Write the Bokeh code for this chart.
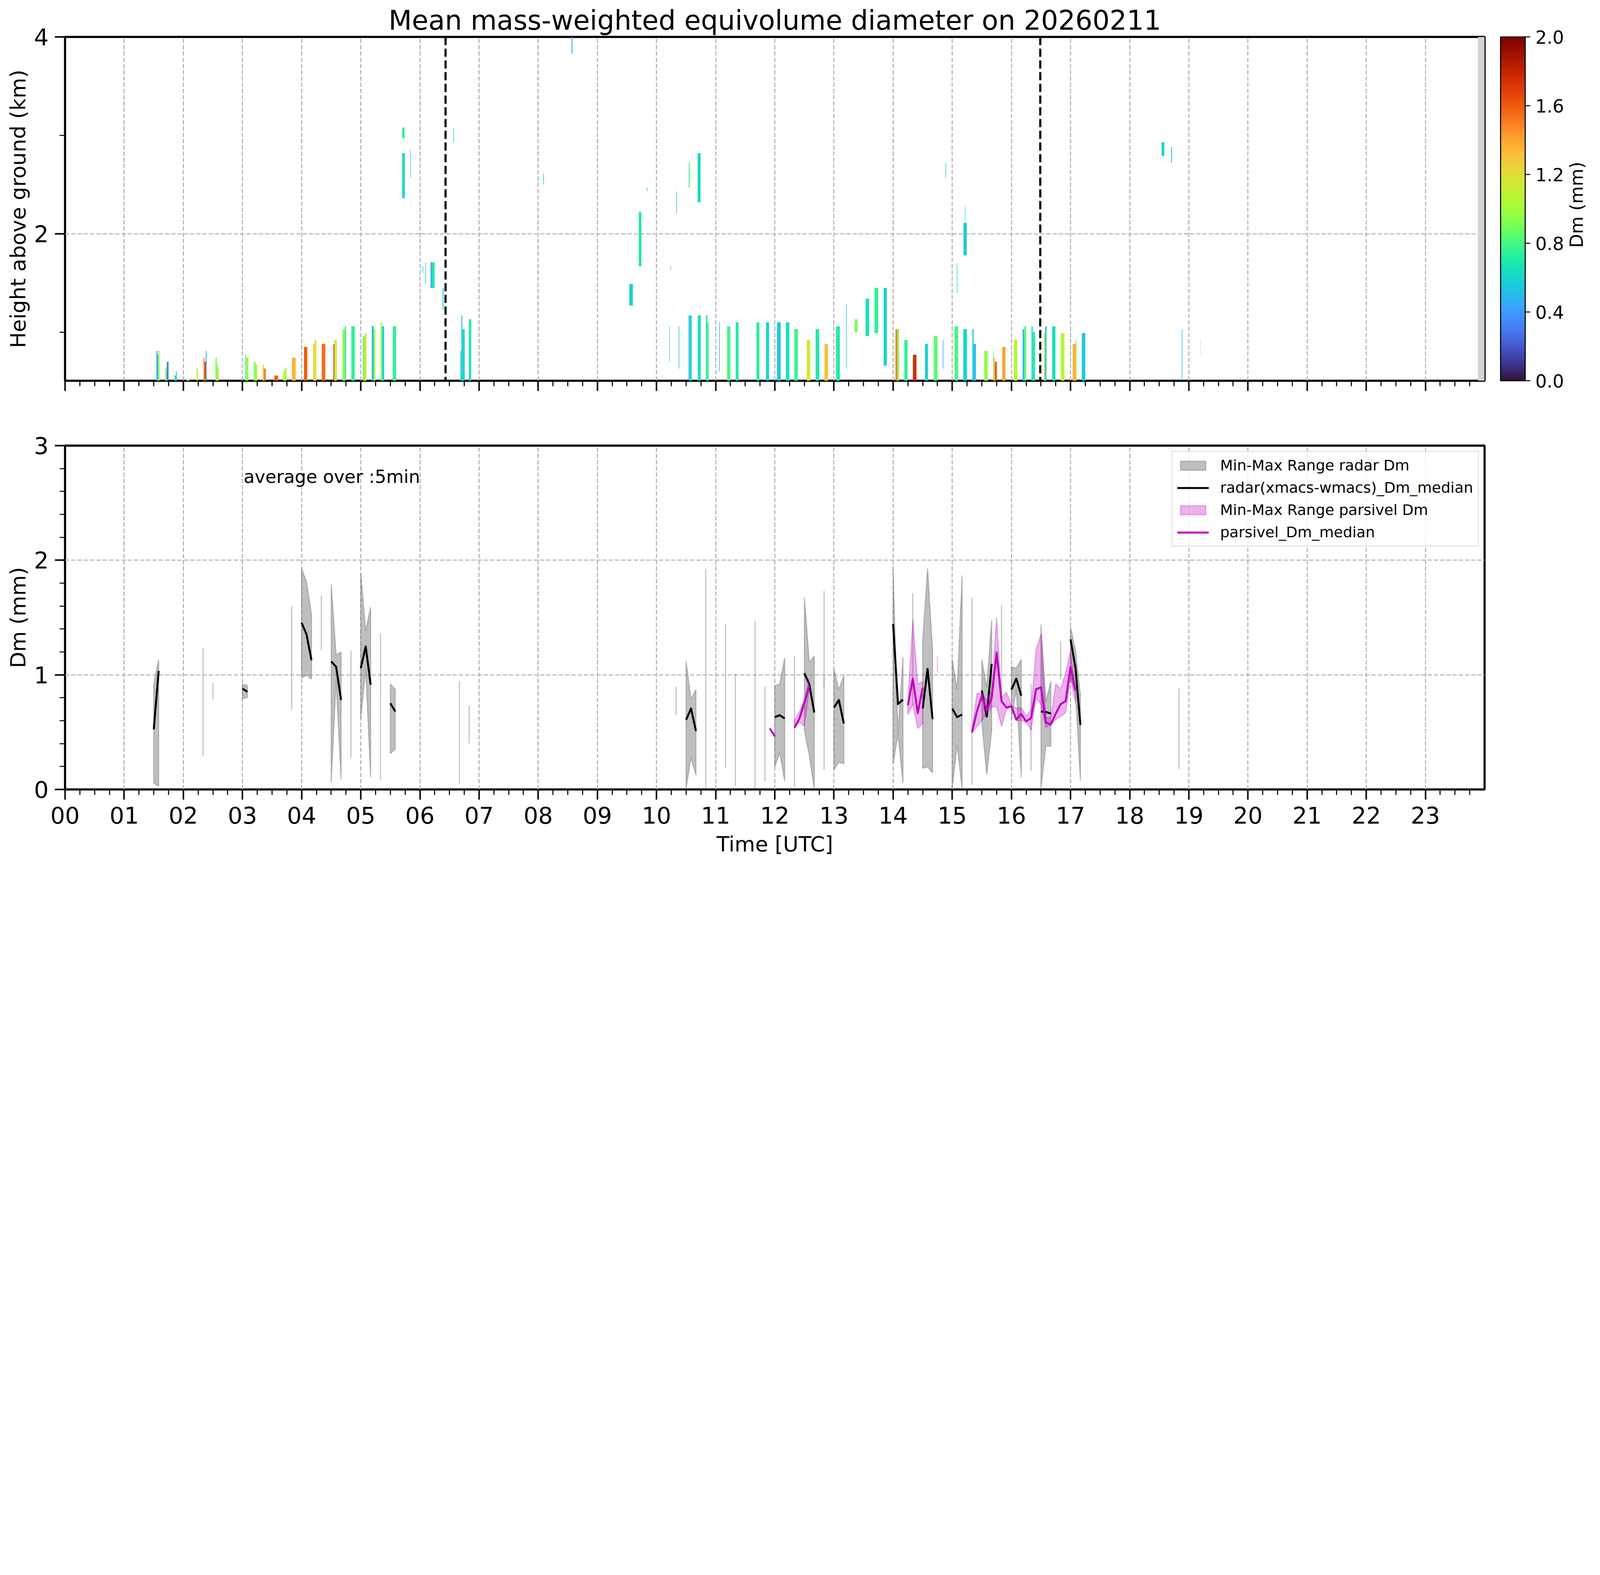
from bokeh.plotting import figure
from bokeh.layouts import column, row
from bokeh.models import (Range1d, FixedTicker, LinearColorMapper, ColorBar, Span, Label,
                          Legend, LegendItem, PrintfTickFormatter, ColumnDataSource)
from bokeh.palettes import Turbo256
from bokeh.embed import file_html
from bokeh.resources import INLINE

FONT = "DejaVu Sans"
GRID = "#b0b0b0"
MAG = "#bf00bf"

hour_labels = ["00", "01", "02", "03", "04", "05", "06", "07", "08", "09", "10", "11",
               "12", "13", "14", "15", "16", "17", "18", "19", "20", "21", "22", "23"]
cbar_ticks = [0.0, 0.4, 0.8, 1.2, 1.6, 2.0]

# ---- top panel: radar Dm columns from the lowest gate (start h, end h, top km, Dm mm)
bar_t0 = [1.545, 1.562, 1.580, 1.695, 1.720, 1.850, 1.875,
          2.054, 2.225, 2.340, 2.360, 2.380, 2.542, 2.565, 2.585,
          3.047, 3.066, 3.190, 3.220, 3.340, 3.360, 3.540, 3.690, 3.710, 3.836,
          4.040, 4.095, 4.194, 4.218, 4.340, 4.537, 4.555, 4.690, 4.730, 4.840,
          5.034, 5.070, 5.185, 5.220, 5.337, 5.360, 5.542,
          6.685, 6.700, 6.716, 6.827,
          10.543, 10.560, 10.697, 10.835, 10.860,
          11.194, 11.340, 11.690, 11.852,
          12.037, 12.187, 12.330, 12.540, 12.690, 12.840,
          13.035,
          14.040, 14.070, 14.190, 14.335, 14.540, 14.687,
          15.040, 15.187, 15.340, 15.360, 15.540, 15.690, 15.700, 15.720, 15.845,
          16.040, 16.190, 16.220, 16.340, 16.360, 16.547, 16.570, 16.689, 16.835,
          17.036, 17.090, 17.190]
bar_t1 = [1.562, 1.580, 1.597, 1.720, 1.750, 1.875, 1.890,
          2.100, 2.250, 2.360, 2.380, 2.394, 2.565, 2.585, 2.598,
          3.066, 3.100, 3.220, 3.250, 3.360, 3.395, 3.600, 3.710, 3.745, 3.900,
          4.095, 4.100, 4.218, 4.250, 4.400, 4.555, 4.595, 4.730, 4.750, 4.900,
          5.070, 5.097, 5.220, 5.247, 5.360, 5.395, 5.598,
          6.700, 6.716, 6.757, 6.868,
          10.560, 10.595, 10.748, 10.860, 10.882,
          11.249, 11.387, 11.740, 11.903,
          12.100, 12.246, 12.390, 12.600, 12.750, 12.900,
          13.100,
          14.070, 14.100, 14.245, 14.395, 14.590, 14.750,
          15.100, 15.250, 15.360, 15.400, 15.600, 15.700, 15.720, 15.754, 15.900,
          16.100, 16.220, 16.250, 16.360, 16.400, 16.570, 16.594, 16.745, 16.897,
          17.090, 17.100, 17.250]
bar_top = [0.81, 0.77, 0.81, 0.63, 0.70, 0.56, 0.60,
           0.52, 0.63, 0.74, 0.70, 0.81, 0.74, 0.67, 0.63,
           0.77, 0.74, 0.70, 0.67, 0.67, 0.63, 0.56, 0.60, 0.63, 0.74,
           0.85, 0.88, 0.88, 0.92, 0.88, 0.88, 0.92, 1.03, 1.06, 1.06,
           0.96, 0.99, 1.06, 1.03, 1.10, 1.06, 1.06,
           0.81, 1.17, 1.03, 1.13,
           1.17, 1.17, 1.17, 1.17, 1.10,
           1.06, 1.10, 1.10, 1.10,
           1.10, 1.10, 1.03, 0.92, 1.03, 0.88,
           1.06,
           1.03, 1.03, 0.92, 0.77, 0.88, 0.96,
           1.06, 1.03, 1.03, 0.88, 0.81, 0.81, 0.74, 0.70, 0.85,
           0.92, 1.03, 1.06, 1.06, 1.00, 0.99, 1.06, 1.06, 0.99,
           0.88, 0.92, 0.99]
bar_dm = [0.40, 0.65, 1.00, 0.90, 0.30, 0.65, 0.60,
          1.00, 1.15, 1.45, 1.70, 0.45, 0.90, 1.00, 1.30,
          0.85, 0.95, 0.90, 1.05, 1.20, 1.50, 1.60, 1.05, 1.00, 1.35,
          1.60, 1.20, 1.25, 1.15, 1.55, 1.65, 1.10, 0.95, 0.70, 0.75,
          0.90, 1.20, 0.55, 1.05, 0.95, 0.60, 0.75,
          0.60, 0.50, 0.62, 0.70,
          0.45, 0.62, 0.65, 0.72, 0.80,
          0.80, 0.70, 0.72, 0.60,
          0.55, 0.65, 0.78, 1.15, 0.70, 1.30,
          0.70,
          1.50, 0.90, 0.75, 1.75, 0.60, 0.85,
          0.80, 0.60, 0.55, 0.50, 0.95, 0.85, 1.30, 1.60, 1.40,
          1.05, 0.50, 0.85, 0.65, 0.70, 1.10, 0.50, 0.65, 1.05,
          1.35, 0.90, 0.55]
gate_base = 0.45

# ---- top panel: elevated echoes (start h, end h, bottom km, top km, Dm mm)
echo_t0 = [5.700, 5.700, 5.835, 6.045, 6.090, 6.180, 6.210, 6.385, 6.565, 8.085,
           8.565, 9.540, 9.700, 9.835, 10.216, 10.235, 10.335, 10.374, 10.545, 10.695,
           11.060, 13.205, 13.350, 13.535, 13.685, 13.840, 14.840, 14.885, 15.075, 15.190,
           15.215, 18.540, 18.700, 18.880, 19.195]
echo_t1 = [5.740, 5.745, 5.842, 6.055, 6.100, 6.210, 6.250, 6.400, 6.575, 8.095,
           8.580, 9.600, 9.745, 9.845, 10.224, 10.245, 10.345, 10.384, 10.560, 10.745,
           11.070, 13.215, 13.400, 13.595, 13.748, 13.894, 14.850, 14.895, 15.085, 15.245,
           15.222, 18.585, 18.715, 18.890, 19.200]
echo_z0 = [2.97, 2.36, 2.57, 1.60, 1.49, 1.45, 1.45, 1.23, 2.93, 2.50,
           3.83, 1.27, 1.67, 2.43, 0.70, 1.64, 2.21, 0.63, 2.47, 2.32,
           0.60, 0.63, 1.00, 0.96, 0.99, 0.66, 0.63, 2.57, 1.40, 1.78,
           2.11, 2.79, 2.72, 0.45, 0.77]
echo_z1 = [3.08, 2.82, 2.86, 1.67, 1.71, 1.71, 1.71, 1.45, 3.08, 2.61,
           4.00, 1.49, 2.22, 2.47, 1.06, 1.67, 2.43, 1.06, 2.72, 2.82,
           1.10, 1.28, 1.13, 1.34, 1.45, 1.45, 0.92, 2.72, 1.70, 2.11,
           2.28, 2.93, 2.88, 1.03, 0.92]
echo_dm = [0.75, 0.62, 0.45, 0.60, 0.55, 0.45, 0.70, 0.55, 0.65, 0.55,
           0.50, 0.60, 0.70, 0.60, 0.60, 0.60, 0.50, 0.50, 0.75, 0.62,
           0.45, 0.55, 0.90, 0.65, 0.75, 0.60, 0.45, 0.60, 0.70, 0.55,
           0.60, 0.60, 0.55, 0.50, 0.90]

nodata_start = 23.887
event_marks = [6.433, 16.488]

# ---- bottom panel: 5-min radar Dm statistics (h, mm)
radar_t = [1.5, 1.583, 2.333, 2.5, 3.0, 3.083, 3.833, 4.0, 4.083, 4.167,
           4.333, 4.5, 4.583, 4.667, 4.833, 5.0, 5.083, 5.167, 5.333, 5.5,
           5.583, 6.667, 6.833, 10.333, 10.5, 10.583, 10.667, 10.833, 11.167, 11.333,
           11.667, 11.833, 12.0, 12.083, 12.167, 12.333, 12.5, 12.583, 12.667, 12.833,
           13.0, 13.083, 13.167, 14.0, 14.083, 14.167, 14.333, 14.5, 14.583, 14.667,
           15.0, 15.083, 15.167, 15.333, 15.5, 15.583, 15.667, 15.833, 16.0, 16.083,
           16.167, 16.333, 16.5, 16.583, 16.667, 16.833, 17.0, 17.083, 17.167, 18.833]
radar_min = [0.055, 0.029, 0.293, 0.784, 0.789, 0.805, 0.697, 0.974, 0.997, 0.962,
             1.217, 0.059, 0.948, 0.087, 0.276, 0.614, 1.052, 0.107, 0.087, 0.312,
             0.354, 0.047, 0.402, 0.648, 0.012, 0.277, 0.125, 0.007, 0.185, 0.029,
             0.012, 0.067, 0.194, 0.324, 0.073, 0.021, 0.515, 0.300, 0.000, 0.172,
             0.172, 0.237, 0.224, 0.229, 0.480, 0.055, 0.731, 0.185, 0.197, 0.145,
             0.012, 0.388, 0.003, 0.041, 0.584, 0.128, 0.515, 0.750, 0.610, 0.870,
             0.107, 0.159, 0.012, 0.380, 0.376, 0.957, 0.974, 0.850, 0.076, 0.180]
radar_max = [0.919, 1.134, 1.235, 0.931, 0.919, 0.908, 1.599, 1.928, 1.812, 1.529,
             1.690, 1.788, 1.174, 1.200, 1.208, 1.890, 1.382, 1.590, 1.359, 0.919,
             0.874, 0.940, 0.732, 0.896, 1.117, 0.789, 0.870, 1.925, 1.446, 1.009,
             1.469, 0.896, 0.905, 0.919, 1.148, 1.165, 1.677, 1.110, 1.162, 1.732,
             1.052, 0.870, 0.995, 1.928, 0.490, 1.156, 1.714, 1.295, 1.928, 1.217,
             1.134, 0.870, 1.867, 1.671, 1.134, 0.888, 1.477, 1.607, 1.070, 1.058,
             1.134, 0.922, 1.439, 0.766, 0.943, 1.295, 1.416, 1.217, 0.818, 0.881]
radar_med = [0.524, 1.035, 0.760, 0.860, 0.879, 0.853, 1.150, 1.455, 1.352, 1.127,
             1.450, 1.117, 1.070, 0.780, 0.740, 1.058, 1.248, 0.914, 0.720, 0.752,
             0.680, 0.490, 0.570, 0.770, 0.607, 0.706, 0.510, 0.960, 0.820, 0.520,
             0.740, 0.480, 0.631, 0.648, 0.619, 0.590, 1.014, 0.919, 0.671, 0.950,
             0.714, 0.780, 0.575, 1.443, 0.745, 0.784, 1.220, 0.706, 1.052, 0.614,
             0.706, 0.631, 0.654, 0.860, 0.862, 0.636, 1.096, 1.180, 0.870, 0.966,
             0.818, 0.540, 0.680, 0.676, 0.662, 1.120, 1.309, 1.061, 0.562, 0.530]

# ---- bottom panel: 5-min parsivel Dm statistics (h, mm)
pars_t = [11.917, 12.0, 12.333, 12.417, 12.5, 12.583, 12.833,
          14.25, 14.333, 14.417, 14.5, 14.75,
          15.333, 15.417, 15.5, 15.583, 15.667, 15.75, 15.833, 15.917, 16.0, 16.083, 16.167,
          16.25, 16.333, 16.417, 16.5, 16.583, 16.667, 16.75, 16.833, 16.917, 17.0, 17.083]
pars_min = [0.53, 0.46, 0.53, 0.59, 0.55, 0.88, 0.896,
            0.654, 0.74, 0.532, 0.575, 1.018,
            0.49, 0.55, 0.60, 0.66, 0.72, 0.72, 0.55, 0.70, 0.72, 0.60, 0.60,
            0.59, 0.515, 0.80, 0.74, 0.54, 0.567, 0.61, 0.636, 0.67, 0.974, 0.758]
pars_max = [0.54, 0.47, 0.60, 0.68, 0.78, 0.97, 0.983,
            0.75, 1.482, 0.922, 0.94, 1.162,
            0.51, 0.839, 0.839, 0.78, 0.86, 1.498, 0.80, 0.85, 0.73, 0.71, 0.714,
            0.64, 0.70, 1.22, 1.356, 0.627, 0.627, 0.922, 0.879, 1.018, 1.208, 0.87]
pars_med = [0.532, 0.463, 0.54, 0.62, 0.76, 0.90, 0.94,
            0.735, 0.966, 0.666, 0.888, 1.09,
            0.50, 0.68, 0.815, 0.688, 0.797, 1.196, 0.770, 0.714, 0.727, 0.610, 0.659,
            0.593, 0.624, 0.874, 0.891, 0.584, 0.567, 0.662, 0.745, 0.770, 1.070, 0.862]


def runs(t):
    # consecutive 5-min samples form one run
    out, cur = [], [0]
    for i in range(1, len(t)):
        if t[i] - t[i - 1] < 0.1:
            cur.append(i)
        else:
            out.append(cur)
            cur = [i]
    out.append(cur)
    return out


def band(t, lo, hi):
    xs, ys = [], []
    for g in runs(t):
        xs.append([t[i] for i in g] + [t[i] for i in g[::-1]])
        ys.append([hi[i] for i in g] + [lo[i] for i in g[::-1]])
    return xs, ys


def segs(t, v):
    xs, ys = [], []
    for g in runs(t):
        xs.append([t[i] for i in g])
        ys.append([v[i] for i in g])
    return xs, ys


def style_axes(p):
    p.outline_line_color = "black"
    p.outline_line_width = 5.5
    p.background_fill_color = "white"
    p.border_fill_color = "white"
    for ax in (p.xaxis, p.yaxis):
        ax.axis_line_color = None
        ax.major_tick_in = 0
        ax.major_tick_out = 26
        ax.major_tick_line_width = 3.8
        ax.minor_tick_in = 0
        ax.minor_tick_out = 14
        ax.minor_tick_line_width = 2.7
        ax.major_label_text_font = FONT
        ax.major_label_text_font_size = "59px"
        ax.major_label_text_color = "black"
        ax.axis_label_text_font = FONT
        ax.axis_label_text_font_size = "54px"
        ax.axis_label_text_font_style = "normal"
        ax.axis_label_text_color = "black"
    p.yaxis.major_label_standoff = 16
    p.yaxis.axis_label_standoff = 6
    p.xaxis.ticker = FixedTicker(ticks=list(range(24)), minor_ticks=[k / 4 for k in range(96)])
    p.xaxis.major_label_overrides = {i: lab for i, lab in enumerate(hour_labels)}
    p.xgrid.ticker = FixedTicker(ticks=list(range(25)))
    for g in (p.xgrid, p.ygrid):
        g.grid_line_color = GRID
        g.grid_line_width = 2.7
        g.grid_line_dash = "11 5"


# ================= top panel =================
p1 = figure(width=4010, height=1094, output_backend="svg", toolbar_location=None,
            x_range=Range1d(0, 24), y_range=Range1d(0.506, 4.0),
            min_border_left=166, min_border_right=210, min_border_top=94, min_border_bottom=120)
p1.title.text = "Mean mass-weighted equivolume diameter on 20260211"
p1.title.text_font = FONT
p1.title.text_font_size = "69px"
p1.title.text_font_style = "normal"
p1.title.text_color = "black"
p1.title.align = "center"
p1.title.standoff = 5

mapper = LinearColorMapper(palette=Turbo256, low=0, high=2)

p1.quad(left=nodata_start, right=24, bottom=0.506, top=4.0, fill_color="#d3d3d3", line_color=None)
bars = ColumnDataSource(dict(l=bar_t0, r=bar_t1, b=[gate_base] * len(bar_t0), t=bar_top, dm=bar_dm))
p1.quad(left="l", right="r", bottom="b", top="t", source=bars,
        fill_color={"field": "dm", "transform": mapper}, line_color=None)
echoes = ColumnDataSource(dict(l=echo_t0, r=echo_t1, b=echo_z0, t=echo_z1, dm=echo_dm))
p1.quad(left="l", right="r", bottom="b", top="t", source=echoes,
        fill_color={"field": "dm", "transform": mapper}, line_color=None)

for t in event_marks:
    p1.add_layout(Span(location=t, dimension="height", line_color="black",
                       line_width=5.5, line_dash="21 9"))

style_axes(p1)
p1.yaxis.ticker = FixedTicker(ticks=[2, 4], minor_ticks=[1, 3])
p1.ygrid.ticker = FixedTicker(ticks=[2, 4])
p1.yaxis.axis_label = "Height above ground (km)"
p1.xaxis.major_label_overrides = {i: "" for i in range(24)}

cbar = ColorBar(color_mapper=mapper, location=(3675, 0), width=63, height=880,
                padding=0, margin=0, ticker=FixedTicker(ticks=cbar_ticks),
                formatter=PrintfTickFormatter(format="%.1f"),
                major_label_text_font=FONT, major_label_text_font_size="46px",
                major_label_text_color="black",
                major_tick_in=0, major_tick_out=13, major_tick_line_color="black",
                major_tick_line_width=2.7, label_standoff=13,
                bar_line_color="black", bar_line_width=2.7,
                background_fill_color=None, border_line_color=None)
p1.add_layout(cbar)

# narrow strip to the right of the top panel that carries the colour bar title
pc = figure(width=70, height=1094, output_backend="svg", toolbar_location=None,
            x_range=Range1d(0, 1), y_range=Range1d(0, 1), min_border=0)
pc.axis.visible = False
pc.grid.visible = False
pc.outline_line_color = None
pc.add_layout(Label(x=0.36, y=1 - 534 / 1094, text="Dm (mm)", angle=90, angle_units="deg",
                    text_align="center", text_baseline="middle", text_color="black",
                    text_font=FONT, text_font_size="46px"))

# ================= bottom panel =================
p2 = figure(width=4080, height=1109, output_backend="svg", toolbar_location=None,
            x_range=Range1d(0, 24), y_range=Range1d(0, 3),
            min_border_left=166, min_border_right=280, min_border_top=46, min_border_bottom=183)

xs, ys = band(radar_t, radar_min, radar_max)
r_rad_fill = p2.patches(xs, ys, fill_color="gray", fill_alpha=0.5,
                        line_color="gray", line_alpha=0.5, line_width=2.7)
xs, ys = segs(radar_t, radar_med)
r_rad_med = p2.multi_line(xs, ys, line_color="black", line_width=5, line_join="round")
xs, ys = band(pars_t, pars_min, pars_max)
r_par_fill = p2.patches(xs, ys, fill_color=MAG, fill_alpha=0.3,
                        line_color=MAG, line_alpha=0.3, line_width=2.7)
xs, ys = segs(pars_t, pars_med)
r_par_med = p2.multi_line(xs, ys, line_color=MAG, line_width=5, line_join="round")

style_axes(p2)
p2.yaxis.ticker = FixedTicker(ticks=[0, 1, 2, 3], minor_ticks=[k / 5 for k in range(16)])
p2.ygrid.ticker = FixedTicker(ticks=[1, 2])
p2.yaxis.axis_label = "Dm (mm)"
p2.xaxis.axis_label = "Time [UTC]"
p2.xaxis.major_label_standoff = 18
p2.xaxis.axis_label_standoff = 18

p2.add_layout(Label(x=3.02, y=2.73, text="average over :5min", text_baseline="alphabetic",
                    text_color="black", text_font=FONT, text_font_size="46px"))

legend = Legend(items=[
    LegendItem(label="Min-Max Range radar Dm", renderers=[r_rad_fill]),
    LegendItem(label="radar(xmacs-wmacs)_Dm_median", renderers=[r_rad_med]),
    LegendItem(label="Min-Max Range parsivel Dm", renderers=[r_par_fill]),
    LegendItem(label="parsivel_Dm_median", renderers=[r_par_med]),
], location="top_right", margin=14, padding=12, spacing=13,
    glyph_width=81, glyph_height=29, label_standoff=29, label_height=44,
    label_text_font=FONT, label_text_font_size="38px", label_text_color="black",
    border_line_color="#cccccc", border_line_width=3.8, background_fill_alpha=0.8)
p2.add_layout(legend)

page = column(row(p1, pc, spacing=0), p2, spacing=0)
open("out.html", "w").write(file_html(page, INLINE))
